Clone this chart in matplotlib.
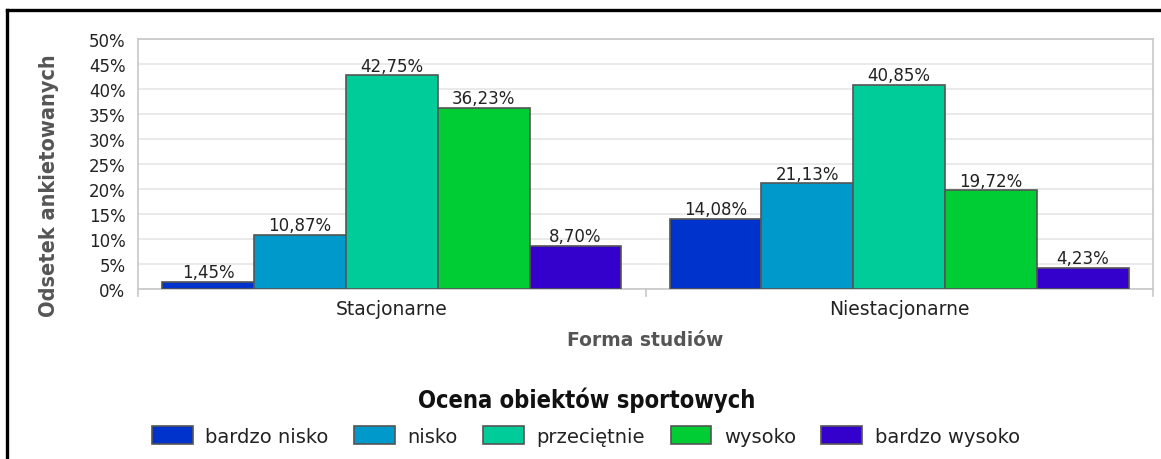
import numpy as np
import matplotlib
matplotlib.use("Agg")
import matplotlib.pyplot as plt
from matplotlib.lines import Line2D
from matplotlib.patches import Patch

categories = ["Stacjonarne", "Niestacjonarne"]
series_names = ["bardzo nisko", "nisko", "przeciętnie", "wysoko", "bardzo wysoko"]
bardzo_nisko = [1.45, 14.08]
nisko = [10.87, 21.13]
przecietnie = [42.75, 40.85]
wysoko = [36.23, 19.72]
bardzo_wysoko = [8.70, 4.23]
y_ticks = [0, 5, 10, 15, 20, 25, 30, 35, 40, 45, 50]

series_values = [bardzo_nisko, nisko, przecietnie, wysoko, bardzo_wysoko]
colors = ["#0033CC", "#0099CC", "#00CC99", "#00CC33", "#3300CC"]

fig = plt.figure(figsize=(11.61, 4.6), dpi=100)
ax = fig.add_axes([138 / 1161, 1 - 290 / 460, (1153 - 138) / 1161, 250 / 460])

x = np.arange(len(categories))
bw = 0.181
for i, (name, vals) in enumerate(zip(series_names, series_values)):
    pos = x + (i - 2) * bw
    ax.bar(pos, vals, width=bw, color=colors[i], edgecolor="#555555", linewidth=1.2, zorder=3)
    for px, v in zip(pos, vals):
        ax.text(px, v + 0.1, ("%.2f%%" % v).replace(".", ","), ha="center", va="bottom",
                fontsize=12, color="#222222", zorder=4)

ax.set_xlim(-0.5, 1.5)
ax.set_ylim(0, 50)
ax.set_yticks(y_ticks)
ax.set_yticklabels(["%d%%" % t for t in y_ticks], fontsize=12, color="#222222")
ax.yaxis.grid(True, color="#e6e6e6", linewidth=1.2, zorder=0)
ax.tick_params(axis="y", length=0, pad=9)

ax.set_xticks(x)
ax.set_xticklabels(categories, fontsize=13.5, color="#222222")
ax.tick_params(axis="x", length=0, pad=7)
# separators between categories
for sx in [-0.5, 0.5, 1.5]:
    ax.plot([sx, sx], [0, -1.4], color="#c8c8c8", linewidth=1.2, clip_on=False, zorder=2)

for side in ["top", "right", "left", "bottom"]:
    ax.spines[side].set_color("#c8c8c8")
    ax.spines[side].set_linewidth(1.2)

ax.set_ylabel("Odsetek ankietowanych", fontsize=15.6, fontweight="bold", color="#555555",
              fontstretch="condensed")
ax.yaxis.set_label_coords((59 - 138) / 1015, (290 - 186) / 250)
ax.set_xlabel("Forma studiów", fontsize=13.5, fontweight="bold", color="#555555")
ax.xaxis.set_label_coords((645 - 138) / 1015, (290 - 340) / 250)
ax.xaxis.label.set_va("center")

handles = [Patch(facecolor=c, edgecolor="#555555", linewidth=1.2) for c in colors]
leg = fig.legend(handles, series_names, loc="center", bbox_to_anchor=(586 / 1161, 1 - 437 / 460),
                 ncol=5, frameon=False, fontsize=14, borderpad=0,
                 handlelength=2.1, handleheight=1.05, columnspacing=1.3, handletextpad=0.65)
for t in leg.get_texts():
    t.set_color("#222222")
fig.text(587 / 1161, 1 - 400 / 460, "Ocena obiektów sportowych", ha="center", va="center",
         fontsize=17, fontweight="bold", fontstretch="condensed", color="#111111")

# black frame lines on top and left
fig.add_artist(Line2D([7 / 1161, 1], [1 - 10.5 / 460, 1 - 10.5 / 460], color="black", linewidth=2.4))
fig.add_artist(Line2D([7 / 1161, 7 / 1161], [0, 1 - 10.5 / 460], color="black", linewidth=2.4))

fig.savefig("out.png", dpi=100)
